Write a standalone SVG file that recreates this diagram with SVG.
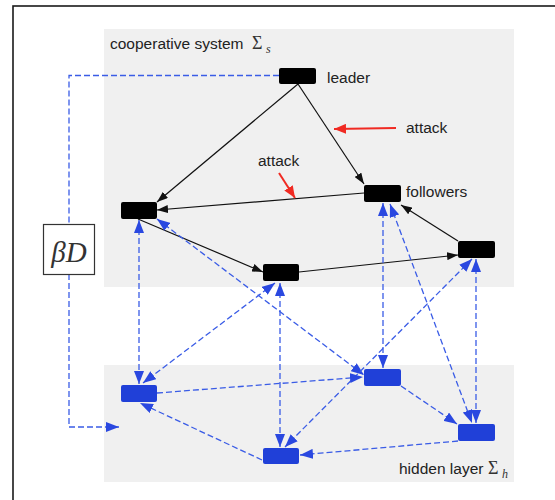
<svg xmlns="http://www.w3.org/2000/svg" width="555" height="500" viewBox="0 0 555 500">
  <style>
    .panel { fill: #f0f0f0; }
    .agent { fill: #000000; }
    .hidden { fill: #2040d8; }
    .lbl { font-family: "Liberation Sans", Arial, sans-serif; font-size: 15.5px; fill: #222222; }
    .math { font-family: "Liberation Serif", "DejaVu Serif", serif; fill: #333333; }
    .solid { stroke: #111111; stroke-width: 1.2; fill: none; marker-end: url(#headBlack); }
    .attack { stroke: #f02a22; stroke-width: 2; fill: none; marker-end: url(#headRed); }
    .dash { stroke: #3a5ce6; stroke-width: 1.3; stroke-dasharray: 6 3; fill: none; }
    .one { marker-end: url(#headBlue); }
    .two { marker-start: url(#headBlue); marker-end: url(#headBlue); }
  </style>
  <defs>
    <marker id="headBlack" markerUnits="userSpaceOnUse" markerWidth="11" markerHeight="8" refX="11" refY="4" orient="auto">
      <path d="M0,0 L11,4 L0,8 z" fill="#111111"/>
    </marker>
    <marker id="headRed" markerUnits="userSpaceOnUse" markerWidth="12" markerHeight="10" refX="12" refY="5" orient="auto">
      <path d="M0,0 L12,5 L0,10 z" fill="#f02a22"/>
    </marker>
    <marker id="headBlue" markerUnits="userSpaceOnUse" markerWidth="13" markerHeight="10" refX="13" refY="5" orient="auto-start-reverse">
      <path d="M0,0 L13,5 L0,10 z" fill="#2a48e0"/>
    </marker>
  </defs>

  <!-- outer frame -->
  <rect x="13" y="6" width="600" height="600" fill="#ffffff" stroke="#1a1a1a" stroke-width="1.6"/>

  <!-- layers -->
  <rect class="panel" x="104" y="29" width="410" height="258"/>
  <rect class="panel" x="104" y="365" width="410" height="117"/>

  <text class="lbl" x="110" y="49">cooperative system</text>
  <text class="math" x="252" y="49" font-size="18">Σ</text>
  <text class="math" x="266" y="53" font-size="12" font-style="italic">s</text>

  <text class="lbl" x="399" y="474">hidden layer</text>
  <text class="math" x="488" y="474" font-size="18">Σ</text>
  <text class="math" x="502" y="478" font-size="12" font-style="italic">h</text>

  <!-- connectors -->
  <g id="connectors">
    <!-- feedback path through the βD gain -->
    <path class="dash" d="M279,75.5 H69 V224"/>
    <path class="dash one" d="M69,274 V427 H119"/>

    <!-- cooperative system links -->
    <line class="solid" x1="298" y1="84" x2="157" y2="202"/>
    <line class="solid" x1="298" y1="84" x2="364" y2="184"/>
    <line class="solid" x1="364" y1="193" x2="157" y2="210"/>
    <line class="solid" x1="138" y1="219" x2="263" y2="272"/>
    <line class="solid" x1="299" y1="272" x2="458" y2="255"/>
    <line class="solid" x1="458" y1="241" x2="401" y2="205"/>

    <!-- attacks -->
    <line class="attack" x1="396" y1="128" x2="334" y2="129"/>
    <line class="attack" x1="279" y1="173" x2="295" y2="198"/>

    <!-- couplings between the two layers -->
    <line class="dash two" x1="139" y1="220" x2="139" y2="384"/>
    <line class="dash two" x1="157" y1="219" x2="364" y2="375"/>
    <line class="dash two" x1="275" y1="283" x2="143" y2="383"/>
    <line class="dash two" x1="280" y1="283" x2="280" y2="447"/>
    <line class="dash two" x1="383" y1="203" x2="383" y2="368"/>
    <line class="dash two" x1="390" y1="204" x2="472" y2="423"/>
    <line class="dash two" x1="472" y1="259" x2="285" y2="447"/>
    <line class="dash two" x1="476" y1="259" x2="476" y2="423"/>

    <!-- hidden layer links -->
    <line class="dash one" x1="157" y1="393" x2="363" y2="377"/>
    <line class="dash one" x1="401" y1="386" x2="457" y2="424"/>
    <line class="dash one" x1="458" y1="441" x2="300" y2="455"/>
    <line class="dash one" x1="262" y1="460" x2="140" y2="403"/>
  </g>

  <!-- gain block -->
  <g id="gain">
    <rect x="43.5" y="224.5" width="51" height="50" fill="#ffffff" stroke="#333333" stroke-width="1.2"/>
    <text class="math" x="69" y="262" font-size="29" font-style="italic" text-anchor="middle">βD</text>
  </g>

  <!-- agents -->
  <g id="leader">
    <rect class="agent" x="279" y="68" width="37" height="16" rx="2"/>
    <text class="lbl" x="327" y="83">leader</text>
  </g>
  <g id="follower-top">
    <rect class="agent" x="364" y="185" width="37" height="17" rx="2"/>
    <text class="lbl" x="406" y="197">followers</text>
  </g>
  <g id="follower-left">
    <rect class="agent" x="121" y="202" width="36" height="17" rx="2"/>
  </g>
  <g id="follower-bottom">
    <rect class="agent" x="263" y="264" width="36" height="17" rx="2"/>
  </g>
  <g id="follower-right">
    <rect class="agent" x="458" y="241" width="37" height="17" rx="2"/>
  </g>

  <g id="attack-labels">
    <text class="lbl" x="406" y="133">attack</text>
    <text class="lbl" x="258" y="166">attack</text>
  </g>

  <!-- hidden states -->
  <g id="hidden-left">
    <rect class="hidden" x="121" y="385" width="36" height="17" rx="2"/>
  </g>
  <g id="hidden-mid">
    <rect class="hidden" x="364" y="369" width="37" height="17" rx="2"/>
  </g>
  <g id="hidden-right">
    <rect class="hidden" x="458" y="424" width="37" height="17" rx="2"/>
  </g>
  <g id="hidden-bottom">
    <rect class="hidden" x="263" y="448" width="36" height="16" rx="2"/>
  </g>
</svg>
